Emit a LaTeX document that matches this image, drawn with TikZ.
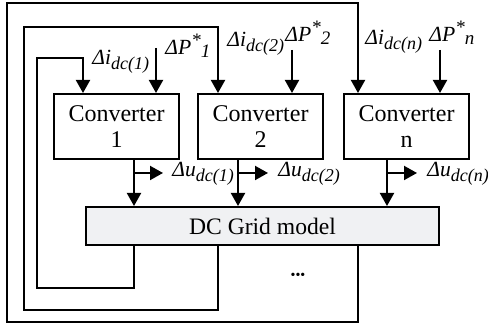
\documentclass[tikz,border=0pt]{standalone}
\usepackage{fontspec}
\setmainfont{Liberation Serif}
\usetikzlibrary{arrows.meta}
\definecolor{gridfill}{RGB}{240,241,243}
\newcommand{\sbs}[1]{\raisebox{-2.5pt}{\fontsize{9}{9}\selectfont\itshape #1}}
\newcommand{\sbp}[1]{\raisebox{-1.5pt}{\fontsize{9.5}{9}\selectfont\itshape #1}}
\newcommand{\sps}[1]{\raisebox{4.2pt}{\fontsize{9.5}{9}\selectfont\itshape #1}}
\tikzset{
	blk/.style={draw, line width=1pt, minimum width=62.5pt, minimum height=32.5pt, align=center, inner sep=0pt, font=\fontsize{12}{13}\selectfont},
	arr/.style={line width=1pt, -{Triangle[length=6.5pt,width=7pt]}},
	lab/.style={anchor=base west, inner sep=0pt, font=\fontsize{10.8}{12}\selectfont\itshape},
}
\begin{document}
\begin{tikzpicture}[x=0.5pt,y=-0.5pt]
	\useasboundingbox (0,0) rectangle (488,324);
	\node[blk] (conv1) at (116.5,126.5) {Converter\\1};
	\node[blk] (conv2) at (260.5,126.5) {Converter\\2};
	\node[blk] (convn) at (406.5,126.5) {Converter\\n};
	\node[blk, fill=gridfill, minimum width=176.5pt, minimum height=19pt, font=\fontsize{11.8}{13}\selectfont] (grid) at (262.5,226) {DC Grid model};
	\node[inner sep=0pt, font=\fontsize{7}{7}\selectfont] (dots) at (298,276) {•••};
	% feedback and reference points
	\coordinate (a1) at (83,58);
	\coordinate (a2) at (218,27);
	\coordinate (an) at (358,3);
	\coordinate (s1) at (156,48);
	\coordinate (s2) at (292,50);
	\coordinate (sn) at (440,50);
	\coordinate (o1) at (134,173);
	\coordinate (o2) at (238,173);
	\coordinate (on) at (387,173);
	\coordinate (e1) at (163,173);
	\coordinate (e2) at (268,173);
	\coordinate (en) at (417,173);
	% power references
	\draw[arr] (s1) -- (conv1.north -| s1);
	\draw[arr] (s2) -- (conv2.north -| s2);
	\draw[arr] (sn) -- (convn.north -| sn);
	% outputs
	\draw[arr] (conv1.south -| o1) -- (grid.north -| o1);
	\draw[arr] (conv2.south -| o2) -- (grid.north -| o2);
	\draw[arr] (convn.south -| on) -- (grid.north -| on);
	\draw[arr] (o1) -- (e1);
	\draw[arr] (o2) -- (e2);
	\draw[arr] (on) -- (en);
	% loops
	\draw[arr] (grid.south -| o1) |- (37,288) |- (a1) -- (conv1.north -| a1);
	\draw[arr] (grid.south -| a2) |- (24,310) |- (a2) -- (conv2.north -| a2);
	\draw[arr] (grid.south -| an) |- (7,322) |- (an) -- (convn.north -| an);
	% labels
	\node[lab] (li1) at (92,65) {Δi\sbs{dc(1)}};
	\node[lab] (lp1) at (165,55) {ΔP\sps{*}\sbp{1}};
	\node[lab] (li2) at (227,47) {Δi\sbs{dc(2)}};
	\node[lab] (lp2) at (285,42) {ΔP\sps{*}\sbp{2}};
	\node[lab] (lin) at (365,45) {Δi\sbs{dc(n)}};
	\node[lab] (lpn) at (429,42) {ΔP\sps{*}\sbp{n}};
	\node[lab] (lu1) at (172,177) {Δu\sbs{dc(1)}};
	\node[lab] (lu2) at (278,177) {Δu\sbs{dc(2)}};
	\node[lab] (lun) at (427,177) {Δu\sbs{dc(n)}};
\end{tikzpicture}
\end{document}
